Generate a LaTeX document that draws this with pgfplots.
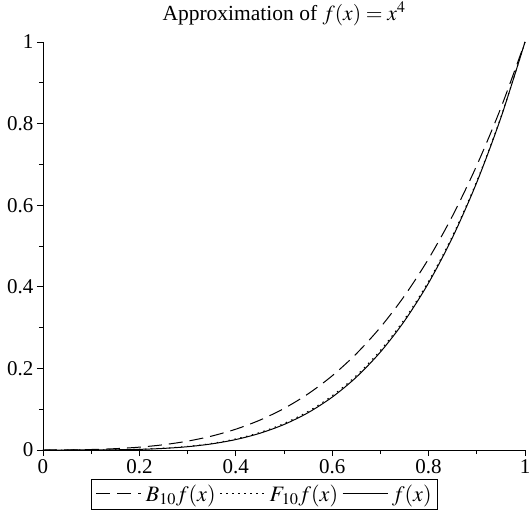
\documentclass[border=0pt]{standalone}
\usepackage{mathptmx}
\usepackage{fontspec}
\setmainfont{Liberation Serif}
\usepackage{pgfplots}
\pgfplotsset{compat=1.18}

% x, B_10 f, F_10 f, f = x^4
\pgfplotstableread{
x     B          F          f
0     0          0          0
0.05  0.000265   0.000011   0.00000625
0.10  0.001212   0.000136   0.0001
0.15  0.003281   0.000621   0.000506
0.20  0.006982   0.001856   0.0016
0.25  0.012906   0.004375   0.003906
0.30  0.021716   0.008856   0.0081
0.35  0.034153   0.016121   0.015006
0.40  0.051030   0.027136   0.0256
0.45  0.073241   0.043011   0.041006
0.50  0.101750   0.065000   0.0625
0.55  0.137601   0.094501   0.091506
0.60  0.181910   0.133056   0.1296
0.65  0.235873   0.182351   0.178506
0.70  0.300756   0.244216   0.2401
0.75  0.377906   0.320625   0.316406
0.80  0.468742   0.413696   0.4096
0.85  0.574761   0.525691   0.522006
0.90  0.697632   0.659016   0.6561
0.95  0.838705   0.816221   0.814506
1.00  1          1          1
}\datatable

\begin{document}
\begin{tikzpicture}
\begin{axis}[
    name=ax,
    scale only axis,
    width=482pt, height=408pt,
    xmin=0, xmax=1, ymin=0, ymax=1,
    axis lines=left,
    axis line style={-, line width=0.8pt},
    tick align=outside,
    tick style={black, line width=0.8pt},
    major tick length=6pt,
    minor tick length=4pt,
    minor tick num=1,
    xtick={0,0.2,...,1},
    ytick={0,0.2,...,1},
    clip=false,
    font=\fontsize{21}{24}\selectfont,
    /pgf/number format/assume math mode=true,
    title={Approximation of $f(x) = x^4$},
    title style={font=\fontsize{21.5}{25}\selectfont, yshift=7pt},
    legend columns=3,
    legend style={at={(0.46,-0.07)}, anchor=north, draw=black,
        line width=0.8pt, font=\fontsize{22}{25}\selectfont,
        inner sep=4pt,
        /tikz/every odd column/.append style={column sep=2pt},
        /tikz/every even column/.append style={column sep=2pt}},
    legend image code/.code={\draw[#1] (0pt,0pt) -- (45pt,0pt);},
]
\addplot[black, line width=1pt, dash pattern=on 14pt off 7pt, smooth] table[x=x, y=B] {\datatable};
\addlegendentry{$B_{10}f(x)$}
\addplot[black, line width=1pt, dash pattern=on 1.5pt off 4.5pt, smooth] table[x=x, y=F] {\datatable};
\addlegendentry{$F_{\mkern1mu 10}f(x)$}
\addplot[black, line width=1pt, smooth] table[x=x, y=f] {\datatable};
\addlegendentry{$f(x)$}
\end{axis}
\pgfresetboundingbox
\path ([xshift=-43pt,yshift=-67pt]ax.south west) rectangle ([xshift=4pt,yshift=42pt]ax.north east);
\end{tikzpicture}
\end{document}
